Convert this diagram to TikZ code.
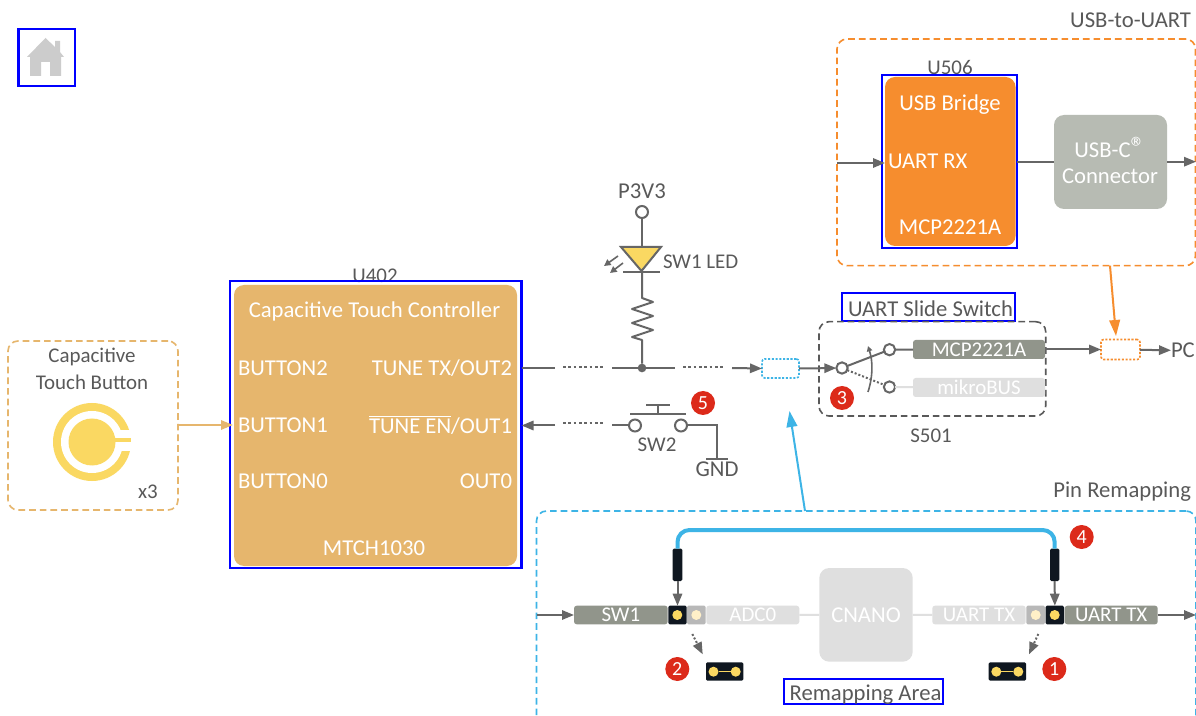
\documentclass[tikz,border=0pt]{standalone}
\usepackage{fontspec}
\setmainfont{Carlito}
\usetikzlibrary{arrows.meta}
\definecolor{txt}{HTML}{595959}
\definecolor{wire}{HTML}{666666}
\definecolor{tan}{HTML}{E6B66D}
\definecolor{org}{HTML}{F68D2E}
\definecolor{sky}{HTML}{3DB4E6}
\definecolor{yel}{HTML}{FAD862}
\definecolor{redb}{HTML}{DC2A1A}
\definecolor{dkpill}{HTML}{91958B}
\definecolor{ltpill}{HTML}{DFDFDF}
\definecolor{usbc}{HTML}{B7BBB3}
\definecolor{jet}{HTML}{0F1720}
\definecolor{pinbg}{HTML}{B8B8B8}
\definecolor{pale}{HTML}{FFF0C8}
\newcommand{\bx}[7]{%
  \pgfmathsetmacro\cxx{(#3+#5)/2}\pgfmathsetmacro\cyy{(#4+#6)/2}%
  \pgfmathsetmacro\www{(#5-#3)*0.75}\pgfmathsetmacro\hhh{(#6-#4)*0.75}%
  \node[#2,minimum width=\www pt,minimum height=\hhh pt] (#1) at (\cxx,\cyy) {#7};}
\newcommand{\OverTune}{\setbox0\hbox{TUNE EN}\rlap{\raisebox{0.72em}{\rule{\wd0}{0.75pt}}}\box0}
\tikzset{
  every node/.style={inner sep=0pt,outer sep=0pt,font=\fontsize{15.7}{18}\selectfont},
  bigt/.style={font=\fontsize{17}{20}\selectfont},
  lbl/.style={text=txt},
  wht/.style={text=white,bigt},
  mark box/.style={draw=blue,line width=1.7pt},
  region/.style={rounded corners=7.5pt,line width=1.2pt,dash pattern=on 5pt off 3pt},
  sbox/.style={rectangle,rounded corners=2pt,line width=1.2pt,dash pattern=on 1.6pt off 1.2pt},
  block/.style={rectangle,rounded corners=7.5pt},
  pill/.style={rectangle,rounded corners=2pt,text=white},
  conn/.style={draw=wire,line width=1.5pt},
  arr/.style={conn,-{Triangle[length=9pt,width=7pt]}},
  dots/.style={draw=wire,line width=1.5pt,dash pattern=on 2pt off 2pt},
  terminal/.style={circle,draw=wire,line width=1.5pt,fill=white,minimum size=9pt},
  badge/.style={circle,fill=redb,text=white,minimum size=18pt,font=\fontsize{15}{16}\selectfont},
  jumper/.style={rectangle,rounded corners=1pt,fill=jet},
  pindot/.style={circle,fill=yel,minimum size=7.5pt},
  paledot/.style={circle,fill=pale,minimum size=7.5pt},
}
\begin{document}
\begin{tikzpicture}[x=0.75pt,y=-0.75pt]
\useasboundingbox (0,0) rectangle (1196,716);
\clip (0,0) rectangle (1196,716);
\fill[white] (0,0) rectangle (1196,716);

% home
\bx{home}{mark box}{18.5}{29}{75}{86}{}
\fill[black!20] (45.5,38) -- (55,47) -- (55,41) -- (60,41) -- (60,52) -- (64,57) -- (61,57) -- (61,76) -- (50,76) -- (50,62) -- (41,62) -- (41,76) -- (30,76) -- (30,57) -- (27,57) -- cycle;

% touch button
\bx{touch}{draw=tan,region}{8}{341}{178}{510}{}
\node[lbl] (capl) at (92,357) {Capacitive};
\node[lbl] (capm) at (92,382) {Touch Button};
\node[lbl] (x3) at (148,492) {x3};
\fill[yel] (92,442) circle[radius=39];
\fill[white] (92,442) circle[radius=31];
\fill[white] (112,430.5) rectangle (132,451);
\fill[yel] (92,442) circle[radius=23.5];
\fill[yel] (110,438.5) rectangle (131,442.5);

% U402
\node[lbl] (u402l) at (375,275.5) {U402};
\bx{u402m}{mark box}{230}{281}{521.5}{568}{}
\bx{u402}{block,fill=tan}{234}{285}{517}{566}{}
\node[wht] (ctc) at (374.5,311.5) {Capacitive Touch Controller};
\node[wht,anchor=west] (b2) at (238,368.5) {BUTTON2};
\node[wht,anchor=west] (b1) at (238,425) {BUTTON1};
\node[wht,anchor=west] (b0) at (238,481.5) {BUTTON0};
\node[wht,anchor=east] (o2) at (512,368.5) {TUNE TX/OUT2};
\node[wht,anchor=east] (o1) at (512,425) {\OverTune/OUT1};
\node[wht,anchor=east] (o0) at (512,481.5) {OUT0};
\node[wht] (mtch) at (374,548) {MTCH1030};
\coordinate (pb1) at (233,425);
\coordinate (tb1) at (178,425);
\draw[draw=tan,line width=1.5pt,-{Triangle[length=9pt,width=7pt]}] (tb1) -- (pb1);

% LED branch
\node[lbl,bigt] (p3) at (642,191) {P3V3};
\node[terminal] (p3c) at (642,212) {};
\coordinate (la) at (642,247);
\draw[conn] (p3c) -- (la);
\draw[wire,fill=yel,line width=1.5pt] (621,247) -- (661,247) -- (641.5,271) -- cycle;
\coordinate (lk1) at (623,272.5); \coordinate (lk2) at (660,272.5);
\draw[conn] (lk1) -- (lk2);
\draw[arr,-{Triangle[length=5pt,width=5pt]},line width=1.2pt] (618,256) -- (604,266);
\draw[arr,-{Triangle[length=5pt,width=5pt]},line width=1.2pt] (623,263) -- (610,273);
\node[lbl,anchor=west] (ledl) at (663,261.5) {SW1 LED};
\node[circle,fill=wire,minimum size=6.5pt] (junc) at (642,368) {};
\draw[conn,line join=round] (642,272.5) -- (642,298) -- (653,302) -- (632,309) -- (653,316) -- (632,323) -- (653,330) -- (632,337) -- (642,340) -- (junc);

% top signal
\coordinate (s1) at (521.5,368); \coordinate (s2) at (555,368);
\coordinate (d1) at (563,367); \coordinate (d2) at (603,367);
\coordinate (s3) at (612,368); \coordinate (s4) at (675,368);
\coordinate (d3) at (683,367); \coordinate (d4) at (723,367);
\coordinate (s5) at (732,368);
\bx{mux}{sbox,draw=sky}{762}{359}{799}{378}{}
\draw[conn] (s1) -- (s2);
\draw[dots] (d1) -- (d2);
\draw[conn] (s3) -- (s4);
\draw[dots] (d3) -- (d4);
\draw[arr] (s5) -- (mux.west);

% bottom signal
\node[terminal] (sw2a) at (635,425.5) {};
\node[terminal] (sw2b) at (681,425.5) {};
\coordinate (t1) at (555,425.5); \coordinate (t2) at (521.5,425.5);
\coordinate (e1) at (563,423); \coordinate (e2) at (603,423);
\coordinate (t3) at (612,425.5);
\draw[arr] (t1) -- (t2);
\draw[dots] (e1) -- (e2);
\draw[conn] (t3) -- (sw2a);
\coordinate (gndp) at (717,459);
\draw[conn] (sw2b) -| (gndp);
\coordinate (g1) at (706,459); \coordinate (g2) at (728,459);
\draw[conn] (g1) -- (g2);
\node[lbl,bigt] (gnd) at (717,469.5) {GND};
\coordinate (k1) at (630,414); \coordinate (k2) at (686,414);
\coordinate (k3) at (658,414); \coordinate (k4) at (658,405);
\coordinate (k5) at (646,405); \coordinate (k6) at (670,405);
\draw[conn] (k1) -- (k2);
\draw[conn] (k3) -- (k4);
\draw[conn] (k5) -- (k6);
\node[lbl] (sw2l) at (657,444.5) {SW2};
\node[badge] (b5) at (703,403) {5};

% slide switch
\bx{sltm}{mark box}{842.3}{293.3}{1015}{320.7}{}
\node[lbl,bigt] (sltl) at (930.5,308.5) {UART Slide Switch};
\bx{slide}{draw=txt,region}{819}{321.7}{1045.7}{416}{}
\node[terminal,minimum size=8.5pt] (pole) at (842,368) {};
\node[terminal,minimum size=8.5pt] (c1) at (889.5,349.7) {};
\node[terminal,minimum size=8.5pt] (c2) at (889.5,387) {};
\draw[conn] (pole) -- (c1);
\draw[dots,dash pattern=on 1.5pt off 1.5pt] (pole) -- (c2);
\bx{pmcp}{pill,fill=dkpill}{913}{340}{1045}{359}{MCP2221A}
\bx{pmik}{pill,fill=ltpill}{913}{378}{1045}{397}{mikroBUS}
\draw[conn] (c1) -- (pmcp);
\draw[conn,draw=ltpill] (c2) -- (pmik);
\draw[arr] (mux.east) -- (pole);
\draw[draw=wire,line width=1.2pt,-{Triangle[length=4pt,width=4pt]}] (868,392) .. controls (873,376) and (873,362) .. (868,346);
\node[badge] (b3) at (842,398) {3};
\node[lbl] (s501) at (931,435.5) {S501};
\bx{muxo}{sbox,draw=org}{1101}{339.5}{1140}{359.5}{}
\draw[arr] (pmcp) -- (muxo);
\node[lbl,bigt,anchor=west] (pc) at (1171,350.5) {PC};
\draw[arr] (muxo) -- (pc);

% USB-to-UART
\node[lbl,bigt,anchor=east] (usbt) at (1191,20.5) {USB-to-UART};
\bx{usbr}{draw=org,region}{837}{39}{1195.5}{265.7}{}
\node[lbl] (u506) at (950,67.5) {U506};
\bx{u506m}{mark box}{882}{75.3}{1017}{248}{}
\bx{u506}{block,fill=org}{885}{77}{1015.5}{246}{}
\node[wht] (ub) at (950,104.5) {USB Bridge};
\node[wht,anchor=west] (urx) at (888,161.5) {UART RX};
\node[wht] (mcp) at (950,227) {MCP2221A};
\bx{conn}{block,fill=usbc}{1054}{115}{1167}{209}{}
\node[wht] (uc) at (1110,147.5) {USB-C{\fontsize{22}{22}\selectfont ®}};
\node[wht] (cn) at (1110,176.5) {Connector};
\coordinate (ui) at (837,163); \coordinate (uj) at (885,163);
\draw[arr] (ui) -- (uj);
\coordinate (uo) at (1017,161.7); \coordinate (uk) at (1054,161.7);
\draw[conn] (uo) -- (uk);
\coordinate (cx) at (1167,161.7); \coordinate (cy) at (1196,161.7);
\draw[arr] (cx) -- (cy);
\coordinate (oa) at (1110,265.7); \coordinate (ob) at (1116,336);
\draw[draw=org,line width=1.5pt,-{Triangle[length=12pt,width=8pt]}] (oa) -- (ob);

% Pin remapping
\node[lbl,bigt,anchor=east] (pinr) at (1191,491.5) {Pin Remapping};
\bx{pinb}{draw=sky,region}{536.5}{511}{1196}{728}{}
\coordinate (ba) at (805,511); \coordinate (bb) at (789.5,411);
\draw[draw=sky,line width=1.5pt,-{Triangle[length=12pt,width=8pt]}] (ba) -- (bb);

\bx{j1}{jumper}{672.7}{548.7}{682.3}{581}{}
\bx{j2}{jumper}{1050}{548.7}{1059.3}{581}{}
\draw[draw=sky,line width=3pt,rounded corners=9pt] (j1.north) -- (677.5,530) -- (1054.7,530) -- (j2.north);

\bx{sw1}{pill,fill=dkpill}{574}{605.7}{667.7}{624.3}{SW1}
\bx{pa}{jumper}{668.3}{605.7}{686.7}{624.3}{}
\bx{pb}{jumper,fill=pinbg}{687}{605.7}{705.7}{624.3}{}
\bx{adc}{pill,fill=ltpill}{706.3}{605.7}{799.3}{624.3}{ADC0}
\bx{cnano}{block,fill=ltpill,text=white,bigt}{819.3}{568}{912.7}{661.7}{CNANO}
\bx{utl}{pill,fill=ltpill}{932.3}{605.7}{1025.7}{624.3}{UART TX}
\bx{pc1}{jumper,fill=pinbg}{1026.3}{605.7}{1045}{624.3}{}
\bx{pd}{jumper}{1045.7}{605.7}{1064}{624.3}{}
\bx{utd}{pill,fill=dkpill}{1064.7}{605.7}{1157.7}{624.3}{UART TX}
\node[pindot] (da) at (677.3,615) {};
\node[paledot] (db) at (696.3,615) {};
\node[paledot] (dc) at (1035.7,615) {};
\node[pindot] (dd) at (1054.7,615) {};
\draw[conn,draw=ltpill] (adc) -- (cnano);
\draw[conn,draw=ltpill] (cnano) -- (utl);
\coordinate (ra) at (536.5,615);
\draw[arr] (ra) -- (sw1);
\coordinate (rb) at (1196,615);
\draw[arr] (utd) -- (rb);
\draw[arr] (j1.south) -- (pa.north);
\draw[arr] (j2.south) -- (pd.north);

\coordinate (aa) at (692.3,634); \coordinate (ab) at (702.7,654.3);
\coordinate (ac) at (1038.3,634); \coordinate (ad) at (1029,654.3);
\draw[dots,dash pattern=on 1.5pt off 1.5pt,-{Triangle[length=9pt,width=7pt]}] (aa) -- (ab);
\draw[dots,dash pattern=on 1.5pt off 1.5pt,-{Triangle[length=9pt,width=7pt]}] (ac) -- (ad);

\bx{sj1}{jumper}{706}{662.3}{743.3}{680.7}{}
\node[pindot] (sj1a) at (713.5,671.7) {};
\node[pindot] (sj1b) at (735.7,671.7) {};
\draw[draw=yel,line width=1pt] (sj1a) -- (sj1b);
\bx{sj2}{jumper}{988.7}{662.3}{1026}{680.7}{}
\node[pindot] (sj2a) at (996.3,671.7) {};
\node[pindot] (sj2b) at (1018.3,671.7) {};
\draw[draw=yel,line width=1pt] (sj2a) -- (sj2b);

\node[badge] (b2b) at (677.3,669) {2};
\node[badge] (b1b) at (1054.3,669) {1};
\node[badge] (b4b) at (1081.7,537) {4};
\bx{rema}{mark box}{784.3}{679.3}{942.7}{704}{}
\node[lbl,bigt] (remal) at (865.5,694.5) {Remapping Area};
\end{tikzpicture}
\end{document}
